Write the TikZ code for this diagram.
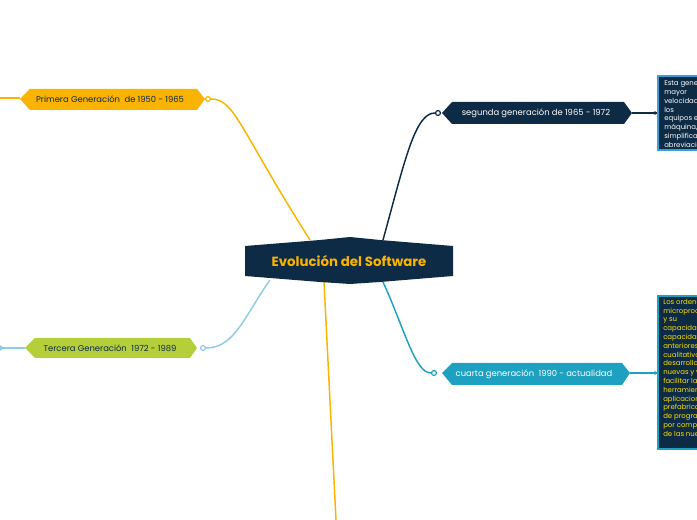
\documentclass[tikz,border=0pt]{standalone}
\usepackage{fontspec}
\setmainfont{Poppins}
\begin{document}
\begin{tikzpicture}[x=0.75pt,y=-0.75pt,
  sub/.style={font=\fontsize{6.3}{7}\selectfont},
  note/.style={font=\fontsize{5.2}{6.6}\selectfont,text=yellow!85!orange,align=left,anchor=north west,inner sep=0pt},
  dotc/.style={circle,draw,fill=white,line width=0.9pt,inner sep=1.3pt}]
\useasboundingbox (0,0) rectangle (697,520);
\definecolor{navy}{HTML}{0D2B45}
\definecolor{org}{HTML}{F9B300}
\definecolor{grn}{HTML}{B5CF3A}
\definecolor{teal}{HTML}{1EA1C0}
\definecolor{sky}{HTML}{8ECBE8}
\definecolor{blu}{HTML}{3A9FD8}
% connectors
\coordinate (c1) at (310,240); \coordinate (c2) at (383,240);
\coordinate (c3) at (270,280); \coordinate (c4) at (383,282);
\coordinate (c5) at (324,282); \coordinate (e5) at (336,520);
\coordinate (l1) at (0,98); \coordinate (l3) at (0,348);
\node[dotc,draw=org] (d1) at (208,99) {};
\node[dotc,draw=navy] (d2) at (438,113) {};
\node[dotc,draw=sky] (d3) at (203,348) {};
\node[dotc,draw=teal] (d4) at (434,373) {};
\draw[org,line width=1.1pt] (d1) .. controls (235,99) and (240,130) .. (c1);
\draw[navy,line width=1.1pt] (d2) .. controls (415,113) and (405,160) .. (c2);
\draw[sky,line width=1.1pt] (d3) .. controls (235,348) and (245,315) .. (c3);
\draw[teal,line width=1.1pt] (d4) .. controls (415,373) and (405,330) .. (c4);
\draw[org,line width=1.1pt] (c5) -- (e5);
\draw[org,line width=0.8pt] (l1) -- (20,98);
\draw[sky,line width=0.8pt] (l3) -- (25,348);
\fill[sky] (l3) circle (2pt);
% central
\fill[navy] (245,246) -- (320,240) -- (350,237) -- (380,240) -- (453,246) -- (453,276) -- (380,282) -- (350,284) -- (320,282) -- (245,276) -- cycle;
\node[text=org,font=\bfseries\fontsize{10}{12}\selectfont] (center) at (349,261) {Evolución del Software};
% branch boxes
\fill[org] (20,99) -- (30,89) -- (197,89) -- (205,99) -- (197,110) -- (30,110) -- cycle;
\node[sub,text=navy] (b1) at (110,99.5) {Primera Generación\ \ de 1950 - 1965};
\fill[navy] (442,113) -- (452,102) -- (624,102) -- (632,113) -- (624,124) -- (452,124) -- cycle;
\node[sub,text=white] (b2) at (536,113) {segunda generación de 1965 - 1972};
\fill[grn] (25,348) -- (35,338) -- (190,338) -- (197,348) -- (190,358) -- (35,358) -- cycle;
\node[sub,text=navy] (b3) at (110,348) {Tercera Generación\ \ 1972 - 1989};
\fill[teal] (442,373) -- (452,363) -- (622,363) -- (630,373) -- (622,385) -- (452,385) -- cycle;
\node[sub,text=white] (b4) at (534,374) {cuarta generación\ \ 1990 - actualidad};
% notes
\coordinate (n2) at (657,113); \coordinate (n4) at (657,373);
\draw[navy,line width=0.8pt] (632,113) -- (n2); \fill[navy] (655,113) circle (1.4pt);
\draw[teal,line width=0.8pt] (630,373) -- (n4); \fill[teal] (655,373) circle (1.4pt);
\fill[navy] (657,75) rectangle (699,151);
\draw[blu,line width=1.2pt] (658,76) rectangle (699,150);
\fill[navy] (657,295) rectangle (699,450);
\draw[teal,line width=1.2pt] (658,296) rectangle (699,449);
\begin{scope}
\clip (660,78) rectangle (697,148);
\node[note,text=white] at (664,80) {Esta generación tenía\\mayor\\velocidad de cálculo,\\los\\equipos eran del tamaño\\máquina, simplificación\\simplificación de la\\abreviación};
\end{scope}
\begin{scope}
\clip (660,298) rectangle (697,447);
\node[note] at (663,299) {Los ordenadores con\\microprocesadores\\y su\\capacidad de cálculo y\\capacidad superaban a las\\anteriores en cuanto a\\cualitativos se refiere, el\\desarrollo de herramientas\\nuevas y versátiles para\\facilitar la creación de\\herramientas de software\\aplicaciones y componentes\\prefabricados a la hora\\de programar aplicaciones\\por componentes y el auge\\de las nuevas tecnologías};
\end{scope}
\end{tikzpicture}
\end{document}
